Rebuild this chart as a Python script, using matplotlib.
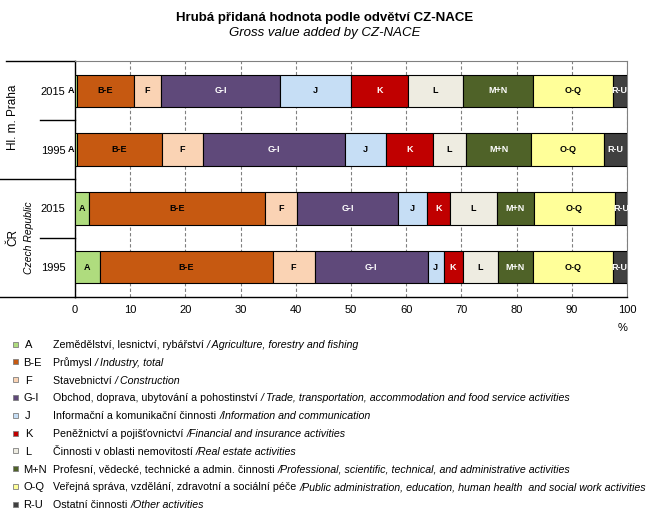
import matplotlib

matplotlib.use("Agg")
import matplotlib.pyplot as plt
from matplotlib.patches import Rectangle
from matplotlib.transforms import blended_transform_factory

plt.rcParams["font.family"] = ["Liberation Sans", "DejaVu Sans"]

W, H = 654, 520

sectors = ["A", "B-E", "F", "G-I", "J", "K", "L", "M+N", "O-Q", "R-U"]
colors = ["#AFDC7E", "#C65911", "#FAD3B4", "#5F497A", "#C6DEF5",
          "#C00000", "#EEECE1", "#4F6228", "#FFFF99", "#404040"]
text_colors = ["black", "black", "black", "white", "black",
               "white", "black", "white", "black", "white"]

row_labels = ["2015", "1995", "2015", "1995"]
praha_2015 = [0.4, 10.2, 4.9, 21.7, 12.8, 10.4, 9.8, 12.8, 14.4, 2.6]
praha_1995 = [0.4, 15.3, 7.4, 25.9, 7.3, 8.5, 6.1, 11.7, 13.3, 4.1]
cr_2015 = [2.5, 32.0, 5.8, 18.3, 5.1, 4.2, 8.5, 6.7, 14.8, 2.1]
cr_1995 = [4.5, 31.3, 7.6, 20.5, 2.9, 3.4, 6.4, 6.4, 14.4, 2.6]
rows = [praha_2015, praha_1995, cr_2015, cr_1995]

desc_cz = [
    "Zemědělství, lesnictví, rybářství ",
    "Průmysl ",
    "Stavebnictví ",
    "Obchod, doprava, ubytování a pohostinství ",
    "Informační a komunikační činnosti ",
    "Peněžnictví a pojišťovnictví ",
    "Činnosti v oblasti nemovitostí ",
    "Profesní, vědecké, technické a admin. činnosti ",
    "Veřejná správa, vzdělání, zdravotní a sociální péče ",
    "Ostatní činnosti ",
]
desc_en = [
    "/ Agriculture, forestry and fishing",
    "/ Industry, total",
    "/ Construction",
    "/ Trade, transportation, accommodation and food service activities",
    "/Information and communication",
    "/Financial and insurance activities",
    "/Real estate activities",
    "/Professional, scientific, technical, and administrative activities",
    "/Public administration, education, human health  and social work activities",
    "/Other activities",
]


def px(x, y):
    return x / W, 1 - y / H


fig = plt.figure(figsize=(W / 100, H / 100), dpi=100)
ax = fig.add_axes([75 / W, 1 - 296.7 / H, 552 / W, 235.4 / H])

for i, vals in enumerate(rows):
    left = 0
    for val, color, tcolor, code in zip(vals, colors, text_colors, sectors):
        ax.barh(i + 0.5, val, left=left, height=0.55, color=color,
                edgecolor="black", linewidth=0.8, zorder=3)
        if val < 1:
            ax.text(-0.2, i + 0.5, code, ha="right", va="center", fontsize=6.5,
                    fontweight="bold", color="black", clip_on=False)
        else:
            ax.text(left + val / 2, i + 0.5, code, ha="center", va="center",
                    fontsize=6.5, fontweight="bold", color=tcolor, zorder=4)
        left += val

ax.set_xlim(0, 100)
ax.set_ylim(4, 0)
ax.set_xticks(range(0, 101, 10))
ax.set_yticks([0.5, 1.5, 2.5, 3.5], row_labels)
ax.tick_params(axis="x", length=0, pad=6, labelsize=8)
ax.tick_params(axis="y", length=0, pad=7, labelsize=8)
ax.grid(axis="x", color="#808080", linestyle=(0, (3, 2)), linewidth=0.8, zorder=0)
for side in ("top", "right"):
    ax.spines[side].set_color("#808080")
for side in ("left", "bottom"):
    ax.spines[side].set_color("black")
    ax.spines[side].set_linewidth(1.0)

# category separators in the left margin
trans = blended_transform_factory(ax.transAxes, ax.transData)
for y, x0 in [(0, 6), (1, 40), (2, 0), (3, 40), (4, 0)]:
    ax.plot([(x0 - 75) / 552, 0], [y, y], color="black", linewidth=1.0,
            transform=trans, clip_on=False)

ax.text((13 - 75) / 552, 0.95, "Hl. m. Praha", rotation=90, ha="center", va="center",
        fontsize=8.5, transform=trans)
ax.text((13 - 75) / 552, 3.0, "ČR", rotation=90, ha="center", va="center",
        fontsize=8.5, transform=trans)
ax.text((29 - 75) / 552, 3.0, "Czech Republic", rotation=90, ha="center", va="center",
        fontsize=7.5, style="italic", transform=trans)

fig.text(*px(627, 328), "%", ha="right", va="center", fontsize=8)

fig.text(*px(325, 18), "Hrubá přidaná hodnota podle odvětví CZ-NACE", ha="center",
         va="center", fontsize=9.5, fontweight="bold")
fig.text(*px(325, 33), "Gross value added by CZ-NACE", ha="center", va="center",
         fontsize=9.5, style="italic")

# legend
for i, (code, color) in enumerate(zip(sectors, colors)):
    y = 345 + i * 17.8
    fig.add_artist(Rectangle(px(13, y + 1.5), 5 / W, 5 / H, transform=fig.transFigure,
                             facecolor=color, edgecolor="#7f7f7f", linewidth=0.6))
    fig.text(*px(23 + (2 if len(code) == 1 else 0), y), code, ha="left", va="center",
             fontsize=8)
    t1 = fig.text(*px(53, y), desc_cz[i], ha="left", va="center", fontsize=7.65)
    ax.annotate(desc_en[i], xy=(1, 0), xycoords=t1, ha="left", va="bottom",
                fontsize=7.65, style="italic", annotation_clip=False)

fig.savefig("out.png", dpi=100)
